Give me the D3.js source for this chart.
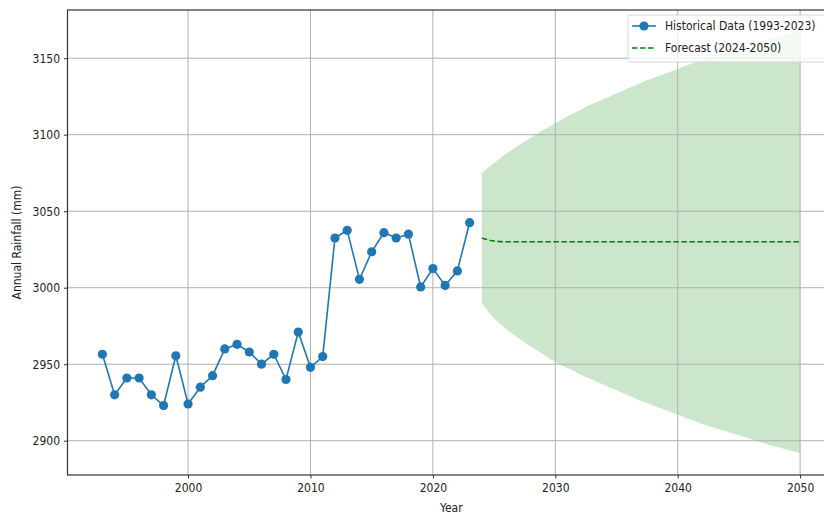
<!DOCTYPE html>
<html>
<head>
<meta charset="utf-8">
<script src="https://cdn.jsdelivr.net/npm/d3@7"></script>
<style>
  html, body { margin: 0; padding: 0; background: #fff; }
  svg { display: block; }
  text { font-family: "DejaVu Sans Condensed", "DejaVu Sans", sans-serif; fill: #222; }
</style>
</head>
<body>
<svg id="chart" width="824" height="518"></svg>
<script>
// Observed annual rainfall, 1993-2023 (mm)
const histYears = d3.range(1993, 2024);
const histRain = [
  2956.5, 2930, 2941, 2941, 2930, 2923, 2955.5, 2924, 2935, 2942.5,
  2960, 2963, 2958, 2950, 2956.5, 2940, 2971, 2948, 2955, 3032.5,
  3037.5, 3005.5, 3023.5, 3036, 3032.5, 3035, 3000.5, 3012.5, 3001.5, 3011,
  3042.5
];

// Forecast, 2024-2050 (mm), with its confidence band
const fcYears = d3.range(2024, 2051);
const fcMean = [
  3032.5, 3030.5, 3030, 3030, 3030, 3030, 3030, 3030, 3030, 3030,
  3030, 3030, 3030, 3030, 3030, 3030, 3030, 3030, 3030, 3030,
  3030, 3030, 3030, 3030, 3030, 3030, 3030
];
const fcUpper = [
  3075, 3081.5, 3087.5, 3093, 3098, 3103, 3107.5, 3112, 3116, 3120,
  3123.5, 3127, 3130.5, 3134, 3137, 3140, 3143, 3146, 3149, 3151.5,
  3154, 3156.5, 3159, 3161.5, 3164, 3166, 3168
];
const fcLower = [
  2990, 2980, 2973, 2967, 2961.5, 2956.5, 2951.5, 2947.5, 2943.5, 2940,
  2936.5, 2933, 2929.5, 2926, 2923, 2920, 2917, 2914, 2911, 2908.5,
  2906, 2903.5, 2901, 2898.5, 2896, 2894, 2892
];

const xTicks = [2000, 2010, 2020, 2030, 2040, 2050];
const yTicks = [2900, 2950, 3000, 3050, 3100, 3150];
const legendLabels = ["Historical Data (1993-2023)", "Forecast (2024-2050)"];

const hist = histYears.map((yr, i) => ({ year: yr, value: histRain[i] }));
const fc = fcYears.map((yr, i) => ({ year: yr, mean: fcMean[i], lo: fcLower[i], hi: fcUpper[i] }));

const svg = d3.select("#chart");
const plotL = 67.5, plotR = 835, plotT = 10, plotB = 475;

const x = d3.scaleLinear().domain([1990.15, 2052.85]).range([plotL, plotR]);
const y = d3.scaleLinear().domain([2877.6, 3181.5]).range([plotB, plotT]);

const blue = "#1f77b4", green = "#008000";

svg.append("clipPath").attr("id", "clip")
  .append("rect").attr("x", plotL).attr("y", plotT).attr("width", plotR - plotL).attr("height", plotB - plotT);

const inner = svg.append("g").attr("clip-path", "url(#clip)");

// confidence band
inner.append("path")
  .datum(fc)
  .attr("fill", green)
  .attr("fill-opacity", 0.2)
  .attr("d", d3.area().curve(d3.curveMonotoneX)
    .x(d => x(d.year)).y0(d => y(d.lo)).y1(d => y(d.hi)));

// grid
inner.append("g").selectAll("line").data(xTicks).join("line")
  .attr("x1", d => x(d)).attr("x2", d => x(d)).attr("y1", plotT).attr("y2", plotB)
  .attr("stroke", "#b0b0b0").attr("stroke-width", 1);
inner.append("g").selectAll("line").data(yTicks).join("line")
  .attr("y1", d => y(d)).attr("y2", d => y(d)).attr("x1", plotL).attr("x2", plotR)
  .attr("stroke", "#b0b0b0").attr("stroke-width", 1);

// historical line + markers
inner.append("path")
  .datum(hist)
  .attr("fill", "none").attr("stroke", blue).attr("stroke-width", 1.6)
  .attr("d", d3.line().x(d => x(d.year)).y(d => y(d.value)));
inner.append("g").selectAll("circle").data(hist).join("circle")
  .attr("cx", d => x(d.year)).attr("cy", d => y(d.value)).attr("r", 4.6)
  .attr("fill", blue);

// forecast mean
inner.append("path")
  .datum(fc)
  .attr("fill", "none").attr("stroke", green).attr("stroke-width", 1.6)
  .attr("stroke-dasharray", "5.5,2.5")
  .attr("d", d3.line().curve(d3.curveMonotoneX).x(d => x(d.year)).y(d => y(d.mean)));

// axes
const xAxis = svg.append("g").attr("transform", `translate(0,${plotB})`)
  .call(d3.axisBottom(x).tickValues(xTicks).tickFormat(d3.format("d")).tickSize(3.5).tickPadding(5));
const yAxis = svg.append("g").attr("transform", `translate(${plotL},0)`)
  .call(d3.axisLeft(y).tickValues(yTicks).tickFormat(d3.format("d")).tickSize(3.5).tickPadding(4));
[xAxis, yAxis].forEach(a => {
  a.selectAll("text").attr("font-size", 12).attr("fill", "#222")
    .attr("font-family", "'DejaVu Sans Condensed', 'DejaVu Sans', sans-serif");
  a.selectAll("line").attr("stroke", "#333");
  a.select(".domain").remove();
});

// frame
svg.append("rect").attr("x", plotL).attr("y", plotT).attr("width", plotR - plotL).attr("height", plotB - plotT)
  .attr("fill", "none").attr("stroke", "#333").attr("stroke-width", 1.2);

// axis titles
svg.append("text").attr("x", (plotL + plotR) / 2).attr("y", 512).attr("text-anchor", "middle")
  .attr("font-size", 12).text("Year");
svg.append("text").attr("transform", `translate(21,${(plotT + plotB) / 2}) rotate(-90)`)
  .attr("text-anchor", "middle").attr("font-size", 12).text("Annual Rainfall (mm)");

// legend
const lg = svg.append("g");
lg.append("rect").attr("x", 628).attr("y", 15).attr("width", 200).attr("height", 47).attr("rx", 3)
  .attr("fill", "#fff").attr("fill-opacity", 0.8).attr("stroke", "#d6d6d6").attr("stroke-width", 1);
const rows = [26, 48];
lg.append("line").attr("x1", 632).attr("x2", 656).attr("y1", rows[0]).attr("y2", rows[0])
  .attr("stroke", blue).attr("stroke-width", 1.6);
lg.append("circle").attr("cx", 644).attr("cy", rows[0]).attr("r", 4.6).attr("fill", blue);
lg.append("line").attr("x1", 632).attr("x2", 656).attr("y1", rows[1]).attr("y2", rows[1])
  .attr("stroke", green).attr("stroke-width", 1.6).attr("stroke-dasharray", "5.5,2.5");
lg.selectAll("text.lbl").data(legendLabels).join("text").attr("class", "lbl")
  .attr("x", 665).attr("y", (d, i) => rows[i]).attr("dy", "0.35em").attr("font-size", 12).text(d => d);
</script>
</body>
</html>
